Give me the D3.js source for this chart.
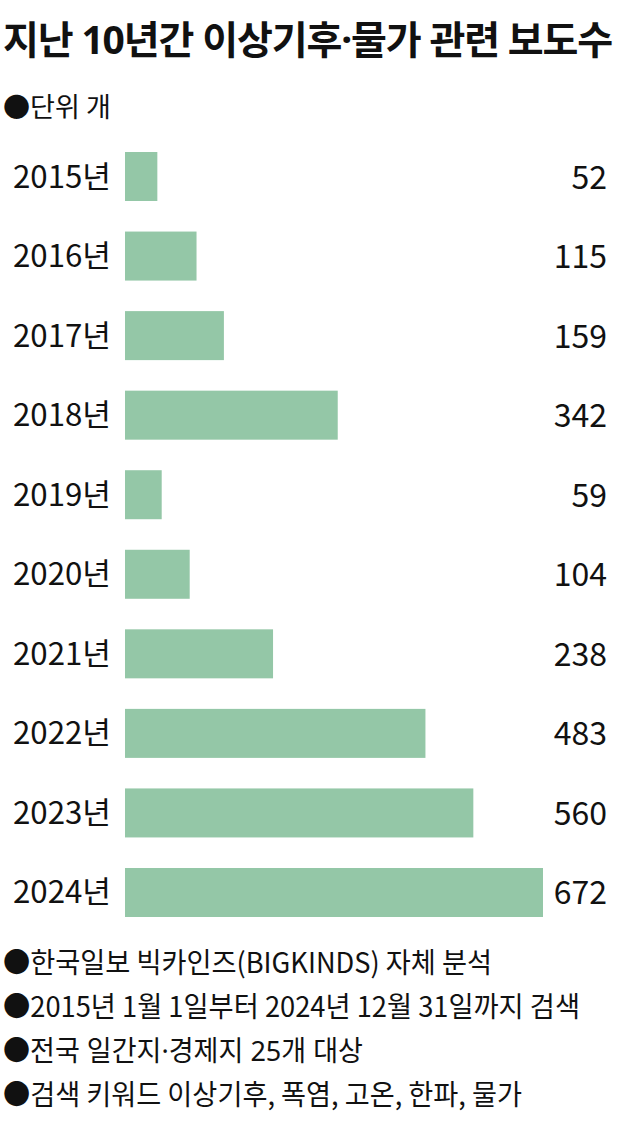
<!DOCTYPE html>
<html>
<head>
<meta charset="utf-8">
<script src="https://cdn.jsdelivr.net/npm/d3@7/dist/d3.min.js"></script>
<style>
html,body{margin:0;padding:0;background:#fff;}
svg{display:block;}
text{font-family:"Noto Sans CJK KR","Noto Sans",sans-serif;fill:#111;}
text.latinfirst{font-family:"Noto Sans","Noto Sans CJK KR",sans-serif;}
</style>
</head>
<body>
<svg id="chart" width="640" height="1141"></svg>
<script>
const title = "지난 10년간 이상기후·물가 관련 보도수";
const unitNote = "●단위 개";
const years = ["2015년","2016년","2017년","2018년","2019년","2020년","2021년","2022년","2023년","2024년"];
const counts = [52,115,159,342,59,104,238,483,560,672];
const notes = [
  "●한국일보 빅카인즈(BIGKINDS) 자체 분석",
  "●2015년 1월 1일부터 2024년 12월 31일까지 검색",
  "●전국 일간지·경제지 25개 대상",
  "●검색 키워드 이상기후, 폭염, 고온, 한파, 물가"
];

const svg = d3.select("#chart");
const W = 640, H = 1141;
svg.append("rect").attr("width",W).attr("height",H).attr("fill","#fff");

const x = d3.scaleLinear().domain([0, 672]).range([125, 543]);
const y = d3.scaleBand().domain(years).range([152, 917]).paddingInner(0.384).paddingOuter(0);

// title: fit width via letter-spacing
const tt = svg.append("text").attr("class","latinfirst").attr("x",3).attr("y",54)
  .attr("font-size",39).attr("font-weight",700)
  .text(title);
const natural = tt.node().getComputedTextLength();
const n = Array.from(title).length;
tt.attr("letter-spacing", ((609 - natural) / n).toFixed(2));

svg.append("text").attr("x",3).attr("y",117)
  .attr("font-size",27)
  .attr("textLength",108).attr("lengthAdjust","spacingAndGlyphs")
  .text(unitNote);

// bars
svg.append("g").selectAll("rect").data(counts).join("rect")
  .attr("x", x(0))
  .attr("y", (d,i)=>y(years[i]))
  .attr("width", d => x(d)-x(0))
  .attr("height", y.bandwidth())
  .attr("fill","#94c7a7");

// year labels (axis)
const yAxis = d3.axisLeft(y).tickSize(0).tickPadding(0);
const ga = svg.append("g").attr("transform","translate(111,0)").call(yAxis);
ga.select(".domain").remove();
ga.selectAll("text")
  .attr("font-size",31).attr("fill","#111")
  .attr("dy",null)
  .attr("y", 11)
  .attr("text-anchor","end")
  .attr("textLength",98).attr("lengthAdjust","spacingAndGlyphs")
  .style("font-family",'"Noto Sans CJK KR","Noto Sans",sans-serif');

// value labels
svg.append("g").selectAll("text").data(counts).join("text")
  .attr("x", 607)
  .attr("y", (d,i)=>y(years[i]) + y.bandwidth()/2 + 12)
  .attr("text-anchor","end")
  .attr("font-size",32)
  .text(d=>d);

// notes
const noteWidths = [489, 577, 360, 519];
const noteY = [973, 1017, 1061, 1105];
svg.append("g").selectAll("text").data(notes).join("text")
  .attr("class",(d)=>d.includes("·") ? "latinfirst" : null)
  .attr("x",3).attr("y",(d,i)=>noteY[i])
  .attr("font-size",28)
  .attr("textLength",(d,i)=>noteWidths[i]).attr("lengthAdjust","spacingAndGlyphs")
  .text(d=>d);
</script>
</body>
</html>
